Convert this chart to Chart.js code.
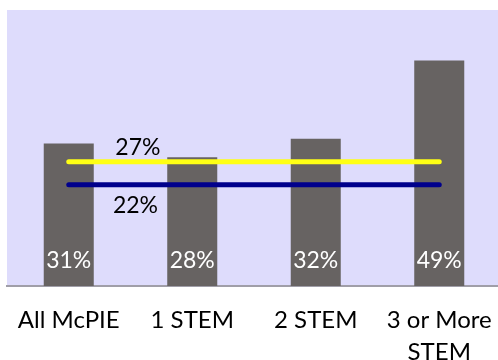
<!DOCTYPE html>
<html>
<head>
<meta charset="utf-8">
<script src="https://cdn.jsdelivr.net/npm/chart.js@4"></script>
<style>
  html, body { margin: 0; padding: 0; background: #fff; overflow: hidden; }
  /* plot runs a few px past the right edge */
  #wrap { width: 498px; height: 360px; overflow: hidden; }
</style>
</head>
<body>
<div id="wrap"><canvas id="stemChart" width="501" height="360"></canvas></div>
<script>
// groups and their percentages
const groupLabels = ['All McPIE', '1 STEM', '2 STEM', ['3 or More', 'STEM']];
const groupPercents = [31, 28, 32, 49];

// two reference lines across the groups
const yellowLine = [27, 27, 27, 27];
const navyLine = [22, 22, 22, 22];

const fontFamily = 'Lato, "Open Sans", sans-serif';

// lavender plot area
const plotBg = {
  id: 'plotBg',
  beforeDraw(chart) {
    const { ctx, chartArea: a } = chart;
    ctx.save();
    ctx.fillStyle = '#dedcfc';
    ctx.fillRect(a.left, a.top, a.right - a.left, a.bottom - a.top);
    ctx.restore();
  }
};

// white % inside bars, black % next to the lines
const valueLabels = {
  id: 'valueLabels',
  afterDatasetsDraw(chart) {
    const ctx = chart.ctx;
    const x = chart.scales.x, y = chart.scales.y;
    ctx.save();
    ctx.font = '23px ' + fontFamily;
    ctx.textAlign = 'center';
    ctx.textBaseline = 'alphabetic';

    ctx.fillStyle = '#ffffff';
    groupPercents.forEach((v, i) => {
      ctx.fillText(v + '%', x.getPixelForValue(i), y.getPixelForValue(0) - 18);
    });

    ctx.fillStyle = '#000000';
    ctx.fillText(yellowLine[0] + '%', x.getPixelForValue(0.56), y.getPixelForValue(yellowLine[0]) - 7);
    ctx.fillText(navyLine[0] + '%', x.getPixelForValue(0.54), y.getPixelForValue(navyLine[0]) + 28);
    ctx.restore();
  }
};

new Chart(document.getElementById('stemChart').getContext('2d'), {
  type: 'bar',
  data: {
    labels: groupLabels,
    datasets: [
      {
        type: 'line',
        data: yellowLine,
        borderColor: '#ffff14',
        borderWidth: 5,
        borderCapStyle: 'round',
        pointRadius: 0,
        order: 0
      },
      {
        type: 'line',
        data: navyLine,
        borderColor: '#00008c',
        borderWidth: 5,
        borderCapStyle: 'round',
        pointRadius: 0,
        order: 1
      },
      {
        data: groupPercents,
        backgroundColor: '#676362',
        categoryPercentage: 1,
        barPercentage: 0.405,
        order: 2
      }
    ]
  },
  options: {
    responsive: false,
    animation: false,
    layout: { padding: { left: 7, top: 10, right: 0, bottom: 0 } },
    plugins: {
      legend: { display: false },
      tooltip: { enabled: false }
    },
    scales: {
      x: {
        grid: { display: false, drawTicks: false },
        border: { display: true, color: '#a09ea8', width: 2 },
        ticks: {
          color: '#000',
          padding: 19,
          maxRotation: 0,
          autoSkip: false,
          font: { family: fontFamily, size: 24, lineHeight: 1.3 }
        },
        afterFit(scale) {
          // keep the plot edge-to-edge, labels may hang over
          scale.height = 74;
          scale.paddingLeft = 0;
          scale.paddingRight = 0;
        }
      },
      y: {
        display: false,
        min: 0,
        max: 60
      }
    }
  },
  plugins: [plotBg, valueLabels]
});
</script>
</body>
</html>
